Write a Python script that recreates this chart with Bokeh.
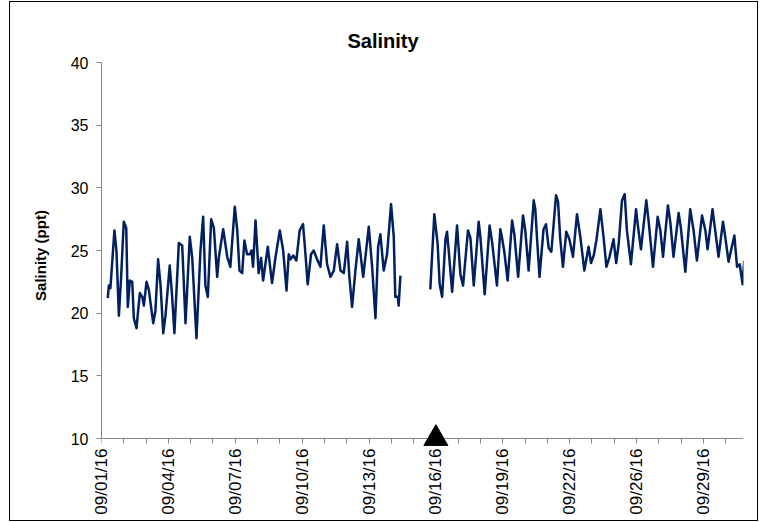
import math
from bokeh.plotting import figure
from bokeh.models import FixedTicker, Range1d, LinearAxis
from bokeh.embed import file_html
from bokeh.resources import INLINE

# ---- data (days since 09/01/16, salinity ppt) ----
days_a = [0.28, 0.33, 0.40, 0.58, 0.67, 0.78, 0.88, 1.00, 1.11, 1.18, 1.27, 1.38, 1.45, 1.57,
          1.72, 1.83, 1.90, 2.02, 2.12, 2.32, 2.42, 2.54, 2.65, 2.77, 2.87, 3.06, 3.17, 3.27,
          3.47, 3.62, 3.77, 3.96, 4.07, 4.26, 4.44, 4.56, 4.66, 4.77, 4.92, 5.04, 5.19, 5.26,
          5.46, 5.64, 5.78, 5.98, 6.09, 6.19, 6.31, 6.41, 6.53, 6.65, 6.73, 6.80, 6.91, 7.05,
          7.16, 7.25, 7.46, 7.65, 7.80, 8.00, 8.15, 8.30, 8.40, 8.48, 8.60, 8.74, 8.89, 9.04,
          9.15, 9.25, 9.40, 9.52, 9.67, 9.82, 9.97, 10.12, 10.27, 10.42, 10.57, 10.72, 10.87,
          11.02, 11.12, 11.24, 11.39, 11.54, 11.74, 11.99, 12.14, 12.29, 12.41, 12.51, 12.66,
          12.81, 12.99, 13.11, 13.18, 13.29, 13.33, 13.41]
sal_a = [21.2, 22.2, 22.0, 26.6, 25.0, 19.8, 22.9, 27.3, 26.8, 20.5, 22.6, 22.5, 19.6, 18.8,
         21.6, 21.3, 20.6, 22.5, 21.9, 19.2, 20.2, 24.3, 22.2, 18.4, 19.8, 23.8, 21.3, 18.4,
         25.6, 25.4, 19.2, 26.1, 24.4, 18.0, 25.0, 27.7, 22.2, 21.3, 27.5, 26.8, 22.9, 24.4,
         26.7, 24.5, 23.7, 28.5, 26.6, 23.4, 23.2, 25.8, 24.7, 24.7, 25.0, 23.7, 27.4, 23.2,
         24.4, 22.6, 25.3, 22.4, 24.4, 26.6, 25.0, 21.8, 24.7, 24.3, 24.6, 24.2, 26.6, 27.1,
         24.7, 22.3, 24.7, 25.0, 24.3, 23.7, 27.0, 23.9, 22.9, 23.4, 25.5, 23.4, 23.2,
         25.7, 22.9, 20.5, 23.4, 25.9, 22.9, 26.9, 23.7, 19.6, 25.3, 26.3, 23.4,
         24.7, 28.7, 26.1, 21.3, 21.3, 20.6, 23.0]

days_b = [14.75, 14.93, 15.08, 15.17, 15.28, 15.43, 15.50, 15.57, 15.73, 15.95, 16.10, 16.22,
          16.44, 16.55, 16.70, 16.92, 17.00, 17.19, 17.41, 17.52, 17.74, 17.89, 17.97, 18.07,
          18.22, 18.42, 18.52, 18.69, 18.91, 19.01, 19.16, 19.39, 19.46, 19.54, 19.65, 19.83,
          19.94, 20.06, 20.18, 20.39, 20.48, 20.58, 20.70, 20.85, 20.99, 21.15, 21.33, 21.48,
          21.66, 21.85, 21.96, 22.08, 22.20, 22.38, 22.52, 22.65, 22.79, 22.97, 23.09, 23.20,
          23.35, 23.47, 23.57, 23.75, 23.98, 24.06, 24.20, 24.44, 24.54, 24.74, 24.95, 25.07,
          25.19, 25.41, 25.52, 25.66, 25.89, 25.99, 26.19, 26.41, 26.56, 26.71, 26.94, 27.09,
          27.19, 27.41, 27.53, 27.68, 27.88, 27.98, 28.13, 28.39, 28.51, 28.63, 28.76, 28.83]
sal_b = [21.9, 27.9, 25.5, 22.3, 21.3, 25.9, 26.5, 25.1, 21.7, 27.0, 23.1, 22.2,
         26.6, 26.0, 22.2, 27.3, 26.0, 21.5, 27.0, 25.7, 22.2, 26.7, 26.0, 24.9,
         22.6, 27.4, 26.3, 22.9, 27.8, 26.6, 23.4, 29.0, 28.3, 25.9, 22.9, 26.7,
         27.1, 25.2, 24.9, 29.4, 28.9, 25.9, 23.7, 26.5, 25.9, 24.5, 27.9, 26.1,
         23.4, 25.3, 24.0, 24.6, 25.8, 28.3, 26.1, 23.7, 24.5, 25.9, 24.0, 25.5,
         29.0, 29.5, 26.6, 23.9, 28.3, 27.0, 25.1, 29.0, 27.4, 23.7, 27.7, 26.6,
         24.5, 28.6, 27.2, 24.5, 28.0, 26.8, 23.3, 28.3, 26.6, 24.2, 27.8, 26.6,
         25.1, 28.3, 26.6, 24.5, 27.3, 26.1, 24.1, 26.2, 23.7, 23.9, 22.3, 24.2]

tick_days = [0, 3, 6, 9, 12, 15, 18, 21, 24, 27]
tick_labels = ["09/01/16", "09/04/16", "09/07/16", "09/10/16", "09/13/16",
               "09/16/16", "09/19/16", "09/22/16", "09/26/16", "09/29/16"]
y_ticks = [10, 15, 20, 25, 30, 35, 40]
event_day = [15]
event_sal = [10]

FONT = "Liberation Sans"
GRAY = "#868686"
Y_MIN, Y_MAX = 10, 40
# frame reaches 10px below the x axis so the event marker is not cut off
Y_LOW = Y_MIN - 10 * (Y_MAX - Y_MIN) / 376

xs = days_a + [math.nan] + days_b
ys = sal_a + [math.nan] + sal_b

p = figure(width=758, height=521, output_backend="svg", toolbar_location=None,
           x_range=Range1d(0, 28.8), y_range=Range1d(Y_LOW, Y_MAX),
           min_border_left=101, min_border_right=15, min_border_top=62, min_border_bottom=73)
line_img = "linear-gradient(#000,#000)"
p.styles = {
    "background-color": "white",
    "background-image": ",".join([line_img] * 4),
    "background-size": "1px 520px, 749px 1px, 1px 520px, 749px 1px",
    "background-position": "9px 1px, 9px 1px, 757px 1px, 9px 520px",
    "background-repeat": "no-repeat",
}
p.outline_line_color = None
p.xgrid.visible = False
p.ygrid.visible = False
p.background_fill_color = "white"
p.border_fill_color = None

p.title.text = "Salinity"
p.title.text_font = FONT
p.title.text_font_size = "20px"
p.title.text_font_style = "bold"
p.title.text_color = "black"
p.title.align = "left"
p.title.offset = 246
p.title.standoff = 21

p.line(xs, ys, line_color="#002060", line_width=2.5, line_join="round")
p.scatter(event_day, event_sal, marker="triangle", size=24,
          fill_color="black", line_color="black", level="overlay")

# axis line + day ticks sitting at y = 10
minor_days = list(range(0, 29))
xa = p.xaxis[0]
xa.fixed_location = Y_MIN
xa.ticker = FixedTicker(ticks=minor_days)
xa.major_label_overrides = {d: "" for d in minor_days}
xa.major_label_text_font_size = "1px"
xa.axis_line_color = GRAY
xa.major_tick_line_color = GRAY
xa.major_tick_in = 0
xa.major_tick_out = 5
xa.minor_tick_line_color = None

# date labels in the panel below the frame
overrides = {d: "" for d in minor_days}
for d, lab in zip(tick_days, tick_labels):
    overrides[d] = lab
xl = LinearAxis(ticker=FixedTicker(ticks=tick_days), major_label_overrides=overrides)
xl.major_label_orientation = math.pi / 2
xl.major_label_text_font = FONT
xl.major_label_text_font_size = "17px"
xl.major_label_text_color = "black"
xl.major_label_standoff = 0
xl.axis_line_color = None
xl.major_tick_line_color = None
xl.major_tick_in = 0
xl.major_tick_out = 0
xl.minor_tick_line_color = None
p.add_layout(xl, "below")

ya = p.yaxis[0]
ya.bounds = (Y_MIN, Y_MAX)
ya.ticker = FixedTicker(ticks=y_ticks)
ya.axis_label = "Salinity (ppt)"
ya.axis_label_text_font = FONT
ya.axis_label_text_font_size = "15px"
ya.axis_label_text_font_style = "bold"
ya.axis_label_text_color = "black"
ya.axis_label_standoff = 19
ya.major_label_text_font = FONT
ya.major_label_text_font_size = "16px"
ya.major_label_text_color = "black"
ya.major_label_standoff = 8
ya.axis_line_color = GRAY
ya.major_tick_line_color = GRAY
ya.major_tick_in = 0
ya.major_tick_out = 5
ya.minor_tick_line_color = None

open("out.html", "w").write(file_html(p, INLINE))
